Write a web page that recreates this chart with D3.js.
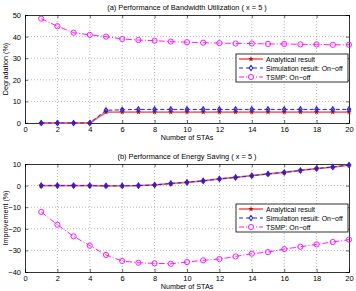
<!DOCTYPE html>
<html><head><meta charset="utf-8">
<script src="https://cdn.jsdelivr.net/npm/d3@7"></script>
<style>
body{margin:0;background:#fff;}
svg{display:block;font-family:"Liberation Sans",Arial,sans-serif;}
</style></head><body>
<svg id="c" width="356" height="291"></svg>
<script>
const stas = d3.range(1, 21);
const bwAnalytical = [0,0,0,0,5,5,5,5,5,5,5,5,5,5,5,5,5,5,5,5];
const bwSimulation = [0,0,0,0,5.9,6.1,6.3,6.3,6.3,6.3,6.3,6.3,6.3,6.3,6.3,6.3,6.3,6.3,6.3,6.3];
const bwTSMP = [48.3,44.8,41.8,40.8,40,38.9,38.4,38.1,37.7,37.4,37.2,37.0,36.8,36.8,36.6,36.6,36.4,36.4,36.2,36.2];
const esAnalytical = [0,0,0,0,-0.1,-0.1,0,0.3,0.9,1.5,2.2,3.1,3.8,4.6,5.4,6.1,7.0,7.9,8.6,9.5];
const esSimulation = [0,0,0,0,-0.1,-0.1,0,0.3,1.0,1.5,2.2,3.1,3.8,4.6,5.4,6.1,7.0,7.9,8.6,9.5];
const esTSMP = [-12.2,-18.1,-23.5,-27.8,-32.1,-34.9,-35.7,-36.0,-36.2,-35.4,-34.6,-34.0,-32.8,-31.5,-30.8,-29.4,-28.3,-27.2,-26.1,-25.0];
const xTicks = d3.range(0, 21, 2);
const bwTicks = [0,10,20,30,40,50];
const esTicks = [-40,-30,-20,-10,0,10];
const seriesNames = ["Analytical result","Simulation result: On\u2212off","TSMP: On\u2212off"];

const svg = d3.select("#c");

function panel(cfg){
  const {top,bottom,left,right,ydom,yticks,title,ylabel,data,legendY} = cfg;
  const x = d3.scaleLinear().domain([0,20]).range([left,right]);
  const y = d3.scaleLinear().domain(ydom).range([bottom,top]);
  const g = svg.append("g");
  // grid
  g.append("g").selectAll("line").data(xTicks.slice(1,-1)).join("line")
    .attr("x1",d=>x(d)).attr("x2",d=>x(d)).attr("y1",top).attr("y2",bottom)
    .attr("stroke","#888").attr("stroke-width",0.6).attr("stroke-dasharray","1,2");
  g.append("g").selectAll("line").data(yticks.slice(1,-1)).join("line")
    .attr("x1",left).attr("x2",right).attr("y1",d=>y(d)).attr("y2",d=>y(d))
    .attr("stroke","#888").attr("stroke-width",0.6).attr("stroke-dasharray","1,2");
  // axes
  const xa = g.append("g").attr("transform",`translate(0,${bottom})`)
    .call(d3.axisBottom(x).tickValues(xTicks).tickSize(-3).tickPadding(4));
  const xt = g.append("g").attr("transform",`translate(0,${top})`)
    .call(d3.axisTop(x).tickValues(xTicks).tickSize(-3).tickFormat(""));
  const ya = g.append("g").attr("transform",`translate(${left},0)`)
    .call(d3.axisLeft(y).tickValues(yticks).tickSize(-3).tickPadding(4));
  const yr = g.append("g").attr("transform",`translate(${right},0)`)
    .call(d3.axisRight(y).tickValues(yticks).tickSize(-3).tickFormat(""));
  [xa,xt,ya,yr].forEach(a=>{
    a.select(".domain").attr("stroke","#000").attr("stroke-width",0.8);
    a.selectAll(".tick line").attr("stroke","#000").attr("stroke-width",0.6);
    a.selectAll("text").attr("font-size",7.5).attr("fill","#000").attr("font-family","Liberation Sans,Arial,sans-serif");
  });
  // title
  g.append("text").attr("x",(left+right)/2).attr("y",top-5).attr("text-anchor","middle")
    .attr("font-size",7.4).text(title);
  g.append("text").attr("x",(left+right)/2).attr("y",bottom+17).attr("text-anchor","middle")
    .attr("font-size",7.2).text("Number of STAs");
  g.append("text").attr("transform",`translate(${left-17},${(top+bottom)/2}) rotate(-90)`)
    .attr("text-anchor","middle").attr("font-size",7.2).text(ylabel);

  const line = d3.line().x((d,i)=>x(stas[i])).y(d=>y(d));
  // TSMP
  g.append("path").datum(data[2]).attr("d",line).attr("fill","none")
    .attr("stroke","#ff00ff").attr("stroke-width",0.9).attr("stroke-dasharray","6,2,1,2");
  g.append("g").selectAll("circle").data(data[2]).join("circle")
    .attr("cx",(d,i)=>x(stas[i])).attr("cy",d=>y(d)).attr("r",2.6)
    .attr("fill","none").attr("stroke","#ff00ff").attr("stroke-width",0.9);
  // analytical
  g.append("path").datum(data[0]).attr("d",line).attr("fill","none")
    .attr("stroke","#f07070").attr("stroke-width",1.8);
  // simulation
  g.append("path").datum(data[1]).attr("d",line).attr("fill","none")
    .attr("stroke","#2020e0").attr("stroke-width",1).attr("stroke-dasharray","4,2.5");
  const star = d3.symbol().type(d3.symbolStar).size(10);
  g.append("g").selectAll("path").data(data[0]).join("path")
    .attr("transform",(d,i)=>`translate(${x(stas[i])},${y(d)})`)
    .attr("d",star).attr("fill","#c01010");
  const dia = d3.symbol().type(d3.symbolDiamond).size(8);
  g.append("g").selectAll("path").data(data[1]).join("path")
    .attr("transform",(d,i)=>`translate(${x(stas[i])},${y(d)}) scale(1.2,1)`)
    .attr("d",dia).attr("fill","rgba(80,0,180,0.5)").attr("stroke","#2020e0").attr("stroke-width",0.9);

  // legend
  const lx = 236, lw = 112, lh = 28;
  const lg = g.append("g").attr("transform",`translate(${lx},${legendY})`);
  lg.append("rect").attr("width",lw).attr("height",lh).attr("fill","#fff").attr("stroke","#000").attr("stroke-width",0.8);
  seriesNames.forEach((name,i)=>{
    const yy = 5 + i*9;
    const sx1 = 3, sx2 = 27, sm = 15;
    if(i===0){
      lg.append("line").attr("x1",sx1).attr("x2",sx2).attr("y1",yy).attr("y2",yy).attr("stroke","#f07070").attr("stroke-width",1.8);
      lg.append("path").attr("transform",`translate(${sm},${yy})`).attr("d",star).attr("fill","#c01010");
    } else if(i===1){
      lg.append("line").attr("x1",sx1).attr("x2",sx2).attr("y1",yy).attr("y2",yy).attr("stroke","#2020e0").attr("stroke-width",1).attr("stroke-dasharray","4,3");
      lg.append("path").attr("transform",`translate(${sm},${yy}) scale(1.2,1)`).attr("d",dia).attr("fill","#fff").attr("stroke","#2020e0").attr("stroke-width",0.9);
    } else {
      lg.append("line").attr("x1",sx1).attr("x2",sx2).attr("y1",yy).attr("y2",yy).attr("stroke","#ff00ff").attr("stroke-width",0.9).attr("stroke-dasharray","5,2,1,2");
      lg.append("circle").attr("cx",sm).attr("cy",yy).attr("r",2.6).attr("fill","#fff").attr("stroke","#ff00ff").attr("stroke-width",0.9);
    }
    lg.append("text").attr("x",30).attr("y",yy+2.5).attr("font-size",7).text(name);
  });
}

panel({top:15,bottom:123,left:25,right:349,ydom:[0,50],yticks:bwTicks,
  title:"(a) Performance of Bandwidth Utilization ( x = 5 )",ylabel:"Degradation (%)",
  data:[bwAnalytical,bwSimulation,bwTSMP],legendY:54});
panel({top:164,bottom:272,left:25,right:349,ydom:[-40,10],yticks:esTicks,
  title:"(b) Performance of Energy Saving ( x = 5 )",ylabel:"Improvement (%)",
  data:[esAnalytical,esSimulation,esTSMP],legendY:204});
</script></body></html>
